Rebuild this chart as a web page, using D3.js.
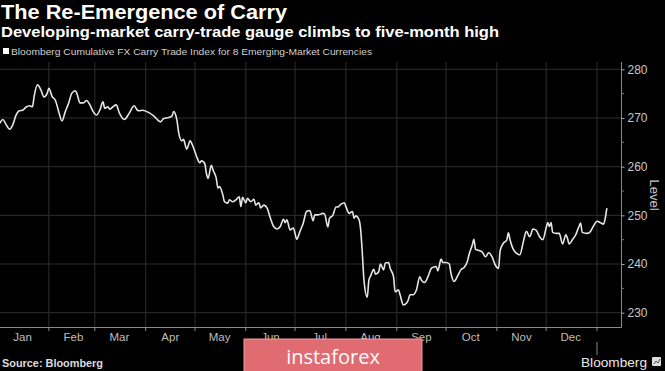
<!DOCTYPE html>
<html>
<head>
<meta charset="utf-8">
<script src="https://cdn.jsdelivr.net/npm/d3@7"></script>
<style>
  body { margin: 0; background: #000; }
  svg { display: block; }
  text { font-family: "Liberation Sans", Arial, sans-serif; }
</style>
</head>
<body>
<div id="chart"></div>
<script>
// index level
const dates = [
  "2018-01-02","2018-01-04","2018-01-06","2018-01-08","2018-01-10","2018-01-12","2018-01-14","2018-01-16",
  "2018-01-18","2018-01-20","2018-01-22","2018-01-23","2018-01-25","2018-01-27","2018-01-29","2018-01-31",
  "2018-02-01","2018-02-03","2018-02-05","2018-02-07","2018-02-09","2018-02-11","2018-02-13","2018-02-15",
  "2018-02-17","2018-02-18","2018-02-20","2018-02-22","2018-02-24","2018-02-26","2018-02-28",
  "2018-03-02","2018-03-04","2018-03-06","2018-03-07","2018-03-09","2018-03-10","2018-03-12","2018-03-14",
  "2018-03-16","2018-03-19","2018-03-22","2018-03-25","2018-03-27","2018-03-28","2018-03-30",
  "2018-04-03","2018-04-06","2018-04-10","2018-04-12","2018-04-15","2018-04-17","2018-04-18","2018-04-20",
  "2018-04-21","2018-04-23","2018-04-24","2018-04-26","2018-04-27","2018-04-28","2018-04-30",
  "2018-05-02","2018-05-04","2018-05-05","2018-05-07","2018-05-08","2018-05-09","2018-05-11","2018-05-12",
  "2018-05-14","2018-05-15","2018-05-16","2018-05-18","2018-05-19","2018-05-21","2018-05-22","2018-05-24",
  "2018-05-26","2018-05-28","2018-05-29","2018-05-30",
  "2018-06-01","2018-06-02","2018-06-04","2018-06-06","2018-06-07","2018-06-09","2018-06-10","2018-06-12",
  "2018-06-14","2018-06-16","2018-06-18","2018-06-20","2018-06-22","2018-06-24","2018-06-25","2018-06-26",
  "2018-06-28","2018-06-30",
  "2018-07-01","2018-07-02","2018-07-04","2018-07-06","2018-07-08","2018-07-10","2018-07-12","2018-07-13",
  "2018-07-15","2018-07-18","2018-07-19","2018-07-21","2018-07-22","2018-07-24","2018-07-26","2018-07-27",
  "2018-07-29","2018-07-31",
  "2018-08-01","2018-08-03","2018-08-05","2018-08-06","2018-08-07","2018-08-09","2018-08-10","2018-08-11",
  "2018-08-12","2018-08-14","2018-08-15","2018-08-16","2018-08-18","2018-08-19","2018-08-21","2018-08-22",
  "2018-08-24","2018-08-25","2018-08-27","2018-08-28","2018-08-30","2018-08-31",
  "2018-09-02","2018-09-03","2018-09-05","2018-09-07","2018-09-08","2018-09-09","2018-09-11","2018-09-13",
  "2018-09-15","2018-09-16","2018-09-18","2018-09-20","2018-09-22","2018-09-23","2018-09-25","2018-09-26",
  "2018-09-28","2018-09-29",
  "2018-10-01","2018-10-03","2018-10-04","2018-10-06","2018-10-08","2018-10-10","2018-10-12","2018-10-14",
  "2018-10-15","2018-10-17","2018-10-18","2018-10-19","2018-10-21","2018-10-23","2018-10-25","2018-10-27",
  "2018-10-29","2018-10-31",
  "2018-11-02","2018-11-03","2018-11-05","2018-11-07","2018-11-08","2018-11-09","2018-11-11","2018-11-13",
  "2018-11-15","2018-11-17","2018-11-19","2018-11-21","2018-11-23","2018-11-25","2018-11-27","2018-11-29",
  "2018-12-01","2018-12-02","2018-12-03","2018-12-04","2018-12-05","2018-12-07","2018-12-09","2018-12-11",
  "2018-12-13","2018-12-14","2018-12-15","2018-12-17","2018-12-19","2018-12-21","2018-12-22","2018-12-23",
  "2018-12-26","2018-12-28","2018-12-30",
  "2019-01-01","2019-01-03","2019-01-05","2019-01-06","2019-01-07"
];
const levels = [
  268.9,269.7,268.6,267.7,268.6,270.6,271.5,271.6,
  272.2,272.5,272.3,274.4,276.8,275.9,274.3,275.1,
  276.1,274.4,273.6,271.3,269.4,271.3,273.0,275.1,
  275.6,275.1,273.1,273.1,273.6,272.7,271.3,
  270.6,271.6,273.3,272.0,272.3,271.8,272.3,272.7,
  271.0,269.7,271.0,272.5,271.6,271.5,271.6,
  271.1,270.4,269.2,269.9,270.1,270.4,271.3,269.6,
  267.2,265.3,265.6,263.6,264.4,265.3,264.0,
  262.1,260.8,261.2,260.6,258.6,257.6,260.3,259.3,
  257.6,255.6,255.9,254.2,252.8,252.5,253.2,252.8,
  253.2,253.8,251.8,253.7,
  252.6,253.5,252.8,253.3,252.1,252.6,251.5,252.1,
  251.5,249.4,247.7,247.2,247.7,249.2,248.5,249.1,
  247.0,247.4,
  246.3,245.1,246.7,248.4,250.8,251.0,248.9,250.1,
  250.1,250.4,250.3,247.6,249.4,250.0,251.7,251.7,
  252.3,252.6,
  251.8,250.4,250.8,249.4,249.9,249.1,247.0,242.2,
  236.7,233.2,236.7,237.5,238.9,237.9,238.4,240.0,
  238.8,240.2,240.3,239.1,237.4,234.3,
  234.7,233.7,231.6,232.0,232.6,233.7,233.7,234.7,
  237.4,236.7,236.2,237.4,239.1,239.3,239.5,238.6,
  241.0,240.3,
  240.3,240.0,238.1,236.4,237.5,238.8,239.3,240.5,
  241.9,243.9,245.1,243.0,242.8,242.5,241.5,242.3,
  241.5,239.8,
  239.1,242.8,244.3,244.9,246.4,245.0,243.0,242.2,
  241.9,244.4,246.7,245.6,247.2,246.9,245.6,245.0,
  247.4,248.5,247.7,248.5,246.5,246.3,246.3,244.1,
  246.0,245.3,244.1,245.0,246.0,247.7,248.4,246.5,
  246.3,246.7,247.9,
  248.8,248.5,248.2,249.4,251.5
];
const monthLabels = ["Jan","Feb","Mar","Apr","May","Jun","Jul","Aug","Sep","Oct","Nov","Dec"];
const yTicks = [230, 240, 250, 260, 270, 280];

const title = "The Re-Emergence of Carry";
const subtitle = "Developing-market carry-trade gauge climbs to five-month high";
const legendText = "Bloomberg Cumulative FX Carry Trade Index for 8 Emerging-Market Currencies";

const width = 665, height = 371;
const plotRight = 621, plotTop = 62, plotBottom = 327;

const parse = d3.timeParse("%Y-%m-%d");
const data = dates.map((d, i) => ({date: parse(d), value: levels[i]}));

const svg = d3.select("#chart").append("svg")
    .attr("width", width)
    .attr("height", height);

svg.append("rect").attr("width", width).attr("height", height).attr("fill", "#000");

const x = d3.scaleTime()
    .domain([new Date(2018, 0, 1), new Date(2019, 0, 1)])
    .range([-2, 597]);

const y = d3.scaleLinear()
    .domain([230, 280])
    .range([312.7, 69.3]);

// gridlines
const monthStarts = d3.timeMonth.range(new Date(2018, 1, 1), new Date(2019, 0, 2));
svg.append("g").selectAll("line").data(monthStarts)
    .enter().append("line")
    .attr("x1", d => x(d)).attr("x2", d => x(d))
    .attr("y1", plotTop).attr("y2", plotBottom)
    .attr("stroke", "#2e2e2e").attr("stroke-width", 1);

svg.append("g").selectAll("line").data(yTicks)
    .enter().append("line")
    .attr("x1", 0).attr("x2", plotRight)
    .attr("y1", d => y(d)).attr("y2", d => y(d))
    .attr("stroke", "#2e2e2e").attr("stroke-width", 1);

// axes frame
svg.append("line")
    .attr("x1", 0).attr("x2", plotRight + 0.5)
    .attr("y1", plotBottom + 0.5).attr("y2", plotBottom + 0.5)
    .attr("stroke", "#8a8a8a");
svg.append("line")
    .attr("x1", plotRight + 0.5).attr("x2", plotRight + 0.5)
    .attr("y1", plotTop).attr("y2", plotBottom + 0.5)
    .attr("stroke", "#8a8a8a");

// right axis
const yAxis = d3.axisRight(y).tickValues(yTicks).tickSize(3).tickPadding(3);
const yg = svg.append("g")
    .attr("transform", `translate(${plotRight + 0.5},0)`)
    .call(yAxis);
yg.select(".domain").remove();
yg.selectAll(".tick line").attr("stroke", "#aaa");
yg.selectAll(".tick text")
    .attr("fill", "#c8c8c8")
    .style("font-size", "12px");

const minorTicks = d3.range(235, 280, 10);
svg.append("g").selectAll("line").data(minorTicks)
    .enter().append("line")
    .attr("x1", plotRight).attr("x2", plotRight + 3)
    .attr("y1", d => y(d)).attr("y2", d => y(d))
    .attr("stroke", "#777");

svg.append("text")
    .attr("transform", "translate(650,195) rotate(90)")
    .attr("text-anchor", "middle")
    .attr("fill", "#c8c8c8")
    .style("font-size", "13px")
    .text("Level");

// bottom axis: ticks at month starts, labels mid-month
svg.append("g").selectAll("line").data(monthStarts)
    .enter().append("line")
    .attr("x1", d => x(d)).attr("x2", d => x(d))
    .attr("y1", plotBottom).attr("y2", plotBottom + 4)
    .attr("stroke", "#8a8a8a");

const monthMids = monthLabels.map((m, i) => new Date(2018, i, 16));
svg.append("g").selectAll("text").data(monthMids)
    .enter().append("text")
    .attr("x", d => x(d))
    .attr("y", 341)
    .attr("text-anchor", "middle")
    .attr("fill", "#bdbdbd")
    .style("font-size", "11.5px")
    .text((d, i) => monthLabels[i]);

svg.append("line")
    .attr("x1", x(new Date(2019, 0, 1))).attr("x2", x(new Date(2019, 0, 1)))
    .attr("y1", 342).attr("y2", 355)
    .attr("stroke", "#8a8a8a");

// the series
svg.append("clipPath").attr("id", "plotclip")
    .append("rect").attr("x", 0).attr("y", plotTop).attr("width", plotRight).attr("height", plotBottom - plotTop);

const line = d3.line()
    .x(d => x(d.date))
    .y(d => y(d.value))
    .curve(d3.curveMonotoneX);

svg.append("path")
    .datum(data)
    .attr("clip-path", "url(#plotclip)")
    .attr("fill", "none")
    .attr("stroke", "#e6e6e6")
    .attr("stroke-width", 1.6)
    .attr("stroke-linejoin", "round")
    .attr("d", line);

// header
svg.append("text")
    .attr("x", 1).attr("y", 19)
    .attr("fill", "#fff")
    .attr("textLength", 286).attr("lengthAdjust", "spacingAndGlyphs")
    .style("font-size", "21px").style("font-weight", "bold")
    .text(title);

svg.append("text")
    .attr("x", 1).attr("y", 37)
    .attr("fill", "#fff")
    .attr("textLength", 498).attr("lengthAdjust", "spacingAndGlyphs")
    .style("font-size", "14.5px").style("font-weight", "bold")
    .text(subtitle);

svg.append("rect")
    .attr("x", 3).attr("y", 48).attr("width", 6).attr("height", 6)
    .attr("fill", "#fff");
svg.append("text")
    .attr("x", 11).attr("y", 55)
    .attr("fill", "#cfcfcf")
    .attr("textLength", 361).attr("lengthAdjust", "spacingAndGlyphs")
    .style("font-size", "9.5px")
    .text(legendText);

// footer
svg.append("text")
    .attr("x", 2).attr("y", 367)
    .attr("fill", "#ddd")
    .attr("textLength", 101).attr("lengthAdjust", "spacingAndGlyphs")
    .style("font-size", "10px").style("font-weight", "bold")
    .text("Source: Bloomberg");

svg.append("text")
    .attr("x", 581).attr("y", 367)
    .attr("fill", "#e8e8e8")
    .attr("textLength", 66).attr("lengthAdjust", "spacingAndGlyphs")
    .style("font-size", "13px")
    .text("Bloomberg");
svg.append("rect")
    .attr("x", 652).attr("y", 357).attr("width", 9).attr("height", 9)
    .attr("rx", 1)
    .attr("fill", "#ddd");
svg.append("path")
    .attr("d", "M654,364 L656,361 L658,363 L660,359")
    .attr("fill", "none").attr("stroke", "#555").attr("stroke-width", 1);

// watermark
svg.append("rect")
    .attr("x", 244).attr("y", 339).attr("width", 178).attr("height", 34)
    .attr("fill", "#e06b70")
    .attr("stroke", "#f2a0a3").attr("stroke-width", 1);
svg.append("text")
    .attr("x", 333).attr("y", 364)
    .attr("text-anchor", "middle")
    .attr("fill", "#fff")
    .style("font-family", "'Open Sans', sans-serif")
    .style("font-size", "20px")
    .text("instaforex");
</script>
</body>
</html>
